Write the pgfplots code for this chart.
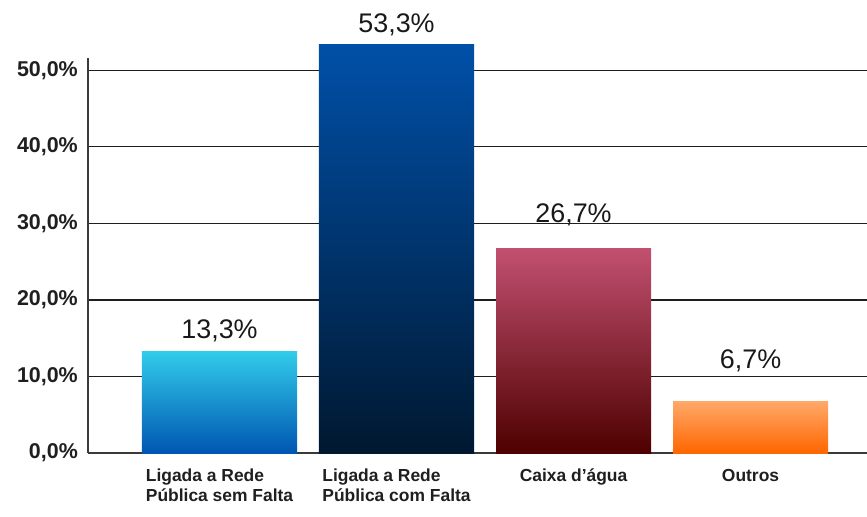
\documentclass[border=0pt]{standalone}
\usepackage{fontspec}
\setmainfont{Liberation Sans}
\usepackage{pgfplots}
\pgfplotsset{compat=1.18}
\definecolor{gridc}{HTML}{1E1E1E}
\definecolor{axc}{HTML}{3A3A3A}
\begin{document}
\begin{tikzpicture}
\begin{axis}[name=ax, at={(0,0)}, anchor=south west,
  scale only axis, width=779bp, height=395bp,
  xmin=-0.743, xmax=3.658, ymin=0, ymax=51.6,
  clip=false,
  axis x line*=bottom, axis y line*=left,
  axis line style={-, line width=1.6bp, color=axc},
  major tick length=0pt,
  ytick={0,10,20,30,40,50},
  yticklabels={{0,0\%},{10,0\%},{20,0\%},{30,0\%},{40,0\%},{50,0\%}},
  yticklabel style={font=\bfseries\fontsize{21.5}{24}\selectfont, anchor=east, inner sep=0pt, xshift=-10bp, color=black!88},
  xtick={0,1,2,3},
  xticklabels={{Ligada a Rede\\Pública sem Falta},{Ligada a Rede\\Pública com Falta},{Caixa d’água},{Outros}},
  xticklabel style={font=\bfseries\fontsize{17.5}{20}\selectfont, align=left, anchor=north, inner sep=0pt, yshift=-16bp, color=black!88},
  ymajorgrids, grid style={line width=1.4bp, color=gridc},
  ybar, bar width=0.876,
  point meta=explicit symbolic,
  nodes near coords,
  every node near coord/.append style={font=\fontsize{27}{30}\selectfont, anchor=base, color=black!90},
]
\addplot[bar shift=0pt, draw=none, top color={rgb,255:red,50;green,204;blue,234}, middle color={rgb,255:red,0;green,170;blue,222}, bottom color={rgb,255:red,0;green,86;blue,178},
  every node near coord/.append style={yshift=13bp}]
  coordinates {(0,13.3) [13,3\%]};
\addplot[bar shift=0pt, draw=none, top color={rgb,255:red,0;green,80;blue,168}, middle color={rgb,255:red,0;green,52;blue,112}, bottom color={rgb,255:red,0;green,24;blue,48},
  every node near coord/.append style={yshift=12bp}]
  coordinates {(1,53.3) [53,3\%]};
\addplot[bar shift=0pt, draw=none, top color={rgb,255:red,194;green,80;blue,112}, middle color={rgb,255:red,162;green,0;blue,54}, bottom color={rgb,255:red,78;green,0;blue,0},
  every node near coord/.append style={yshift=26bp}]
  coordinates {(2,26.7) [26,7\%]};
\addplot[bar shift=0pt, draw=none, top color={rgb,255:red,255;green,168;blue,104}, middle color={rgb,255:red,255;green,138;blue,56}, bottom color={rgb,255:red,255;green,102;blue,0},
  every node near coord/.append style={yshift=33bp}]
  coordinates {(3,6.7) [6,7\%]};
\end{axis}
\pgfresetboundingbox
\path[use as bounding box] (ax.south west) ++(-88bp,-64bp) rectangle ++(867bp,517bp);
\end{tikzpicture}
\end{document}
